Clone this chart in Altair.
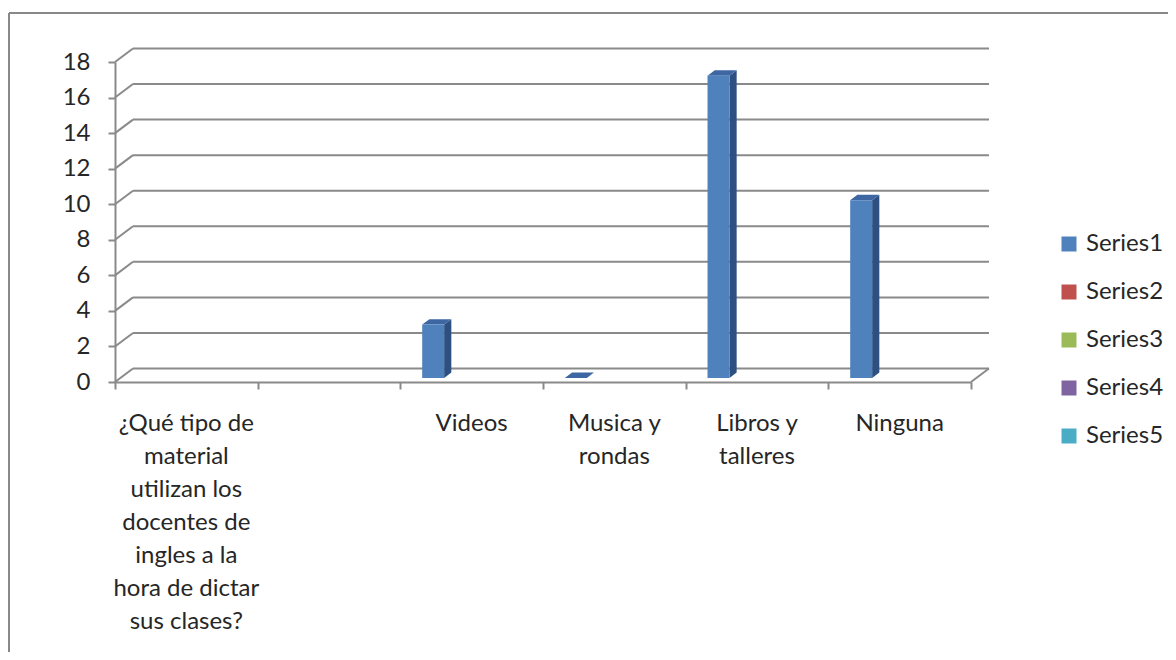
import altair as alt
import pandas as pd

# ---------------- data ----------------
categories = [
    "¿Qué tipo de material utilizan los docentes de ingles a la hora de dictar sus clases?",
    "",
    "Videos",
    "Musica y rondas",
    "Libros y talleres",
    "Ninguna",
]
category_label_lines = [
    ["¿Qué tipo de", "material", "utilizan los", "docentes de", "ingles a la", "hora de dictar", "sus clases?"],
    [""],
    ["Videos"],
    ["Musica y", "rondas"],
    ["Libros y", "talleres"],
    ["Ninguna"],
]
series_names = ["Series1", "Series2", "Series3", "Series4", "Series5"]
series1 = [None, None, 3, 0, 17, 10]
series2 = [None, None, None, None, None, None]
series3 = [None, None, None, None, None, None]
series4 = [None, None, None, None, None, None]
series5 = [None, None, None, None, None, None]
y_ticks = [0, 2, 4, 6, 8, 10, 12, 14, 16, 18]

front_colors = ["#4F81BD", "#C0504D", "#9BBB59", "#8064A2", "#4BACC6"]
side_colors = ["#2D5080", "#8A3431", "#6E8A3C", "#5A4575", "#2F7E93"]
top_colors = ["#3D66A2", "#A5403D", "#84A24A", "#6D548C", "#3B96AE"]

# ---------------- pseudo-3D geometry (in data units) ----------------
N_CAT = len(categories)
DX = 0.126      # depth offset along x (category units)
DY = 0.76       # depth offset along y (value units)
BAR_W = 1 / 6.5
BAR_START = 0.75 * BAR_W
F0, F1 = 0.3, 0.7   # bar front / back depth fractions

all_series = [series1, series2, series3, series4, series5]

front_rows, side_rows, top_rows = [], [], []
for s, (name, vals) in enumerate(zip(series_names, all_series)):
    for i, v in enumerate(vals):
        if v is None:
            continue
        bid = f"{name}-{i}"
        xl = i + BAR_START + s * BAR_W + F0 * DX
        xr = xl + BAR_W
        d_x = (F1 - F0) * DX
        d_y = (F1 - F0) * DY
        yb = F0 * DY
        yt = v + F0 * DY
        front_rows.append(dict(series=name, xl=xl, xr=xr, yb=yb, yt=yt))
        side_rows.append(dict(id=bid, c=side_colors[s], x=xr, y=yt, y2=yb))
        side_rows.append(dict(id=bid, c=side_colors[s], x=xr + d_x, y=yt + d_y, y2=yb + d_y))
        top_rows.append(dict(id=bid, c=top_colors[s], y=yt, x=xl, x2=xr))
        top_rows.append(dict(id=bid, c=top_colors[s], y=yt + d_y, x=xl + d_x, x2=xr + d_x))

front_df = pd.DataFrame(front_rows)
side_df = pd.DataFrame(side_rows)
top_df = pd.DataFrame(top_rows)

grid_rows = []
for v in y_ticks:
    grid_rows.append(dict(x=DX, x2=N_CAT + DX, y=v + DY, y2=v + DY))
    grid_rows.append(dict(x=0, x2=DX, y=v, y2=v + DY))
grid_rows.append(dict(x=N_CAT, x2=N_CAT + DX, y=0, y2=DY))
grid_df = pd.DataFrame(grid_rows)

label_df = pd.DataFrame({
    "x": [i + 0.5 for i in range(N_CAT)],
    "y": [0] * N_CAT,
    "label": ["\n".join(lines) for lines in category_label_lines],
})

GRID = "#8A8A8A"
TEXT = "#262626"
FONT = "Lato"
FS = 24

xs = alt.Scale(domain=[0, N_CAT], nice=False, zero=False)
ys = alt.Scale(domain=[0, 18], nice=False, zero=True)

AX_X = alt.Axis(values=list(range(N_CAT + 1)), labels=False, title=None, grid=False, tickSize=7,
                tickColor=GRID, tickWidth=2, domainColor=GRID, domainWidth=2)
AX_Y = alt.Axis(values=y_ticks, title=None, grid=False, tickSize=7, tickColor=GRID, tickWidth=2,
                domainColor=GRID, domainWidth=2, labelPadding=18, labelFont=FONT,
                labelFontSize=FS, labelColor=TEXT, labelOverlap=False, labelFlush=False,
                labelBound=False)

# ---------------- layers ----------------
grid = alt.Chart(grid_df).mark_rule(color=GRID, strokeWidth=2).encode(
    x=alt.X("x:Q", scale=xs, axis=AX_X),
    x2="x2:Q",
    y=alt.Y("y:Q", scale=ys, axis=AX_Y),
    y2="y2:Q",
)

side = alt.Chart(side_df).mark_area(orient="vertical", interpolate="linear").encode(
    x=alt.X("x:Q", scale=xs, axis=AX_X),
    y=alt.Y("y:Q", scale=ys, axis=AX_Y),
    y2="y2:Q",
    detail="id:N",
    fill=alt.Fill("c:N", scale=None),
)

top = alt.Chart(top_df).mark_area(orient="horizontal", interpolate="linear").encode(
    y=alt.Y("y:Q", scale=ys, axis=AX_Y),
    x=alt.X("x:Q", scale=xs, axis=AX_X),
    x2="x2:Q",
    detail="id:N",
    fill=alt.Fill("c:N", scale=None),
)

front = alt.Chart(front_df).mark_rect().encode(
    x=alt.X("xl:Q", scale=xs, axis=AX_X),
    x2="xr:Q",
    y=alt.Y("yb:Q", scale=ys, axis=AX_Y),
    y2="yt:Q",
    color=alt.Color("series:N", scale=alt.Scale(domain=series_names, range=front_colors),
                    legend=alt.Legend(title=None, orient="none", legendX=942, legendY=170,
                                      symbolType="square", symbolSize=225, symbolStrokeWidth=0,
                                      symbolOpacity=1, labelFont=FONT, labelFontSize=FS,
                                      labelColor=TEXT, rowPadding=24, labelOffset=5, padding=0)),
)

labels = alt.Chart(label_df).mark_text(
    baseline="top", align="center", lineBreak="\n", lineHeight=33, dy=30,
    font=FONT, fontSize=FS, color=TEXT,
).encode(
    x=alt.X("x:Q", scale=xs, axis=AX_X),
    y=alt.Y("y:Q", scale=ys, axis=AX_Y),
    text="label:N",
)

frame_left = alt.Chart(label_df.head(1)).mark_rule(color="#888888", strokeWidth=2).encode(
    x=alt.value(-106), y=alt.value(-49), y2=alt.value(700)
)
frame_top = alt.Chart(label_df.head(1)).mark_rule(color="#888888", strokeWidth=2).encode(
    x=alt.value(-106), x2=alt.value(1200), y=alt.value(-49)
)

chart = alt.layer(frame_left, frame_top, grid, side, top, front, labels).properties(
    width=856, height=320,
    autosize=alt.AutoSizeParams(type="none"),
    padding={"left": 107, "top": 54, "right": 197, "bottom": 270},
    background="white",
).configure_view(stroke=None).configure_axis(labelOverlap=False)

chart.save("out.html", embed_options={"renderer": "svg", "actions": False})
